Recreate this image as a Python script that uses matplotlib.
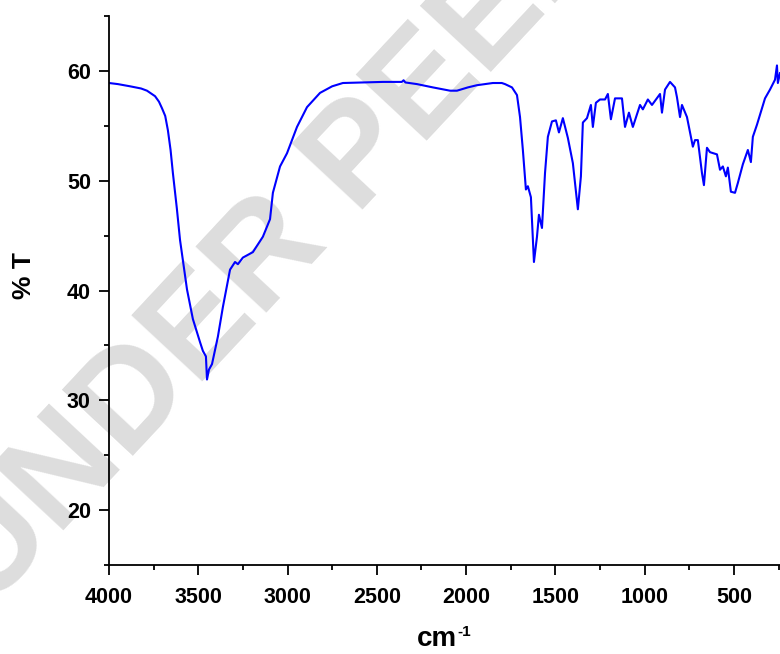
import matplotlib
matplotlib.use("Agg")
import matplotlib.pyplot as plt
from matplotlib.ticker import MultipleLocator

# FTIR spectrum (wavenumber in cm-1, % transmittance)
wavenumber = [4000, 3950, 3882, 3820, 3787, 3760, 3742, 3720, 3703, 3685,
              3670, 3655, 3642, 3620, 3602, 3563, 3530, 3490, 3474, 3457,
              3451, 3440, 3423, 3390, 3362, 3322, 3294, 3278, 3250, 3194,
              3138, 3098, 3082, 3042, 3003, 2947, 2891, 2818, 2750, 2690,
              2466, 2360, 2350, 2340, 2275, 2186, 2090, 2051, 1990, 1939,
              1850, 1800, 1782, 1743, 1715, 1698, 1682, 1665, 1654, 1637,
              1620, 1603, 1592, 1575, 1558, 1542, 1519, 1497, 1480, 1458,
              1430, 1402, 1390, 1374, 1357, 1346, 1323, 1301, 1290, 1273,
              1250, 1222, 1206, 1189, 1166, 1127, 1110, 1088, 1066, 1026,
              1010, 982, 959, 914, 903, 886, 858, 830, 819, 802,
              791, 763, 730, 718, 702, 679, 668, 651, 634, 595,
              578, 562, 545, 534, 517, 494, 478, 450, 422, 405,
              394, 371, 343, 326, 298, 270, 259, 254, 242]
transmittance = [58.9, 58.8, 58.6, 58.4, 58.2, 57.9, 57.7, 57.2, 56.6, 55.9,
                 54.6, 52.8, 50.7, 47.5, 44.6, 40.1, 37.4, 35.3, 34.5, 34.0,
                 31.9, 32.8, 33.3, 35.8, 38.5, 41.9, 42.6, 42.4, 43.0, 43.5,
                 44.9, 46.5, 48.9, 51.3, 52.5, 54.9, 56.7, 58.0, 58.6, 58.9,
                 59.0, 59.0, 59.15, 58.95, 58.8, 58.5, 58.2, 58.2, 58.5, 58.7,
                 58.9, 58.9, 58.8, 58.5, 57.8, 55.8, 52.8, 49.2, 49.5, 48.5,
                 42.6, 44.9, 46.9, 45.7, 50.7, 54.0, 55.4, 55.5, 54.4, 55.7,
                 53.9, 51.6, 49.8, 47.4, 50.4, 55.3, 55.7, 56.9, 54.9, 57.1,
                 57.4, 57.4, 57.9, 55.6, 57.5, 57.5, 54.9, 56.2, 54.9, 56.9,
                 56.5, 57.4, 56.9, 57.9, 56.2, 58.3, 59.0, 58.5, 57.6, 55.8,
                 56.9, 55.8, 53.1, 53.7, 53.7, 50.7, 49.6, 53.0, 52.6, 52.4,
                 51.0, 51.3, 50.4, 51.2, 49.0, 48.9, 49.8, 51.5, 52.8, 51.7,
                 54.0, 55.1, 56.6, 57.5, 58.3, 59.2, 60.5, 58.9, 59.8]

plt.rcParams['font.family'] = ['Liberation Sans', 'DejaVu Sans']

fig = plt.figure(figsize=(7.8, 6.54), dpi=100)
ax = fig.add_axes([0.1397, 0.136, 0.8603, 0.8395])
ax.set_facecolor('none')

# watermark behind everything, anchored at the start of its baseline
ax.text(-0.0154, 0.0657, 'UNDER PEER REVIEW', transform=fig.transFigure,
        rotation=47, rotation_mode='anchor', ha='left', va='baseline',
        fontsize=101.5, fontweight='bold', color='#dddddd', zorder=0)

ax.plot(wavenumber, transmittance, color='#0000ff', linewidth=1.5, zorder=2)

ax.set_xlim(4000, 242)
ax.set_ylim(15, 65)
ax.xaxis.set_major_locator(MultipleLocator(500))
ax.xaxis.set_minor_locator(MultipleLocator(250))
ax.yaxis.set_major_locator(MultipleLocator(10))
ax.yaxis.set_minor_locator(MultipleLocator(5))

for side in ['top', 'right']:
    ax.spines[side].set_visible(False)
for side in ['left', 'bottom']:
    ax.spines[side].set_linewidth(1.3)
ax.tick_params(which='major', length=7.5, width=1.3, labelsize=15.5)
ax.tick_params(which='minor', length=3.6, width=1.3)
ax.tick_params(axis='x', which='major', pad=8)
ax.tick_params(axis='y', which='major', pad=5.5)
for lab in ax.get_xticklabels() + ax.get_yticklabels():
    lab.set_fontweight('bold')

ax.set_xlabel('cm', fontsize=20, fontweight='bold')
ax.xaxis.set_label_coords(0.489, -0.111)
ax.annotate('-1', xy=(1, 1), xycoords=ax.xaxis.label, xytext=(0.5, 1),
            textcoords='offset points', ha='left', va='top',
            fontsize=11, fontweight='bold')
ax.set_ylabel('% T', fontsize=19, fontweight='bold')
ax.yaxis.set_label_coords(-0.109, 0.528)

fig.savefig('out.png', dpi=100)
